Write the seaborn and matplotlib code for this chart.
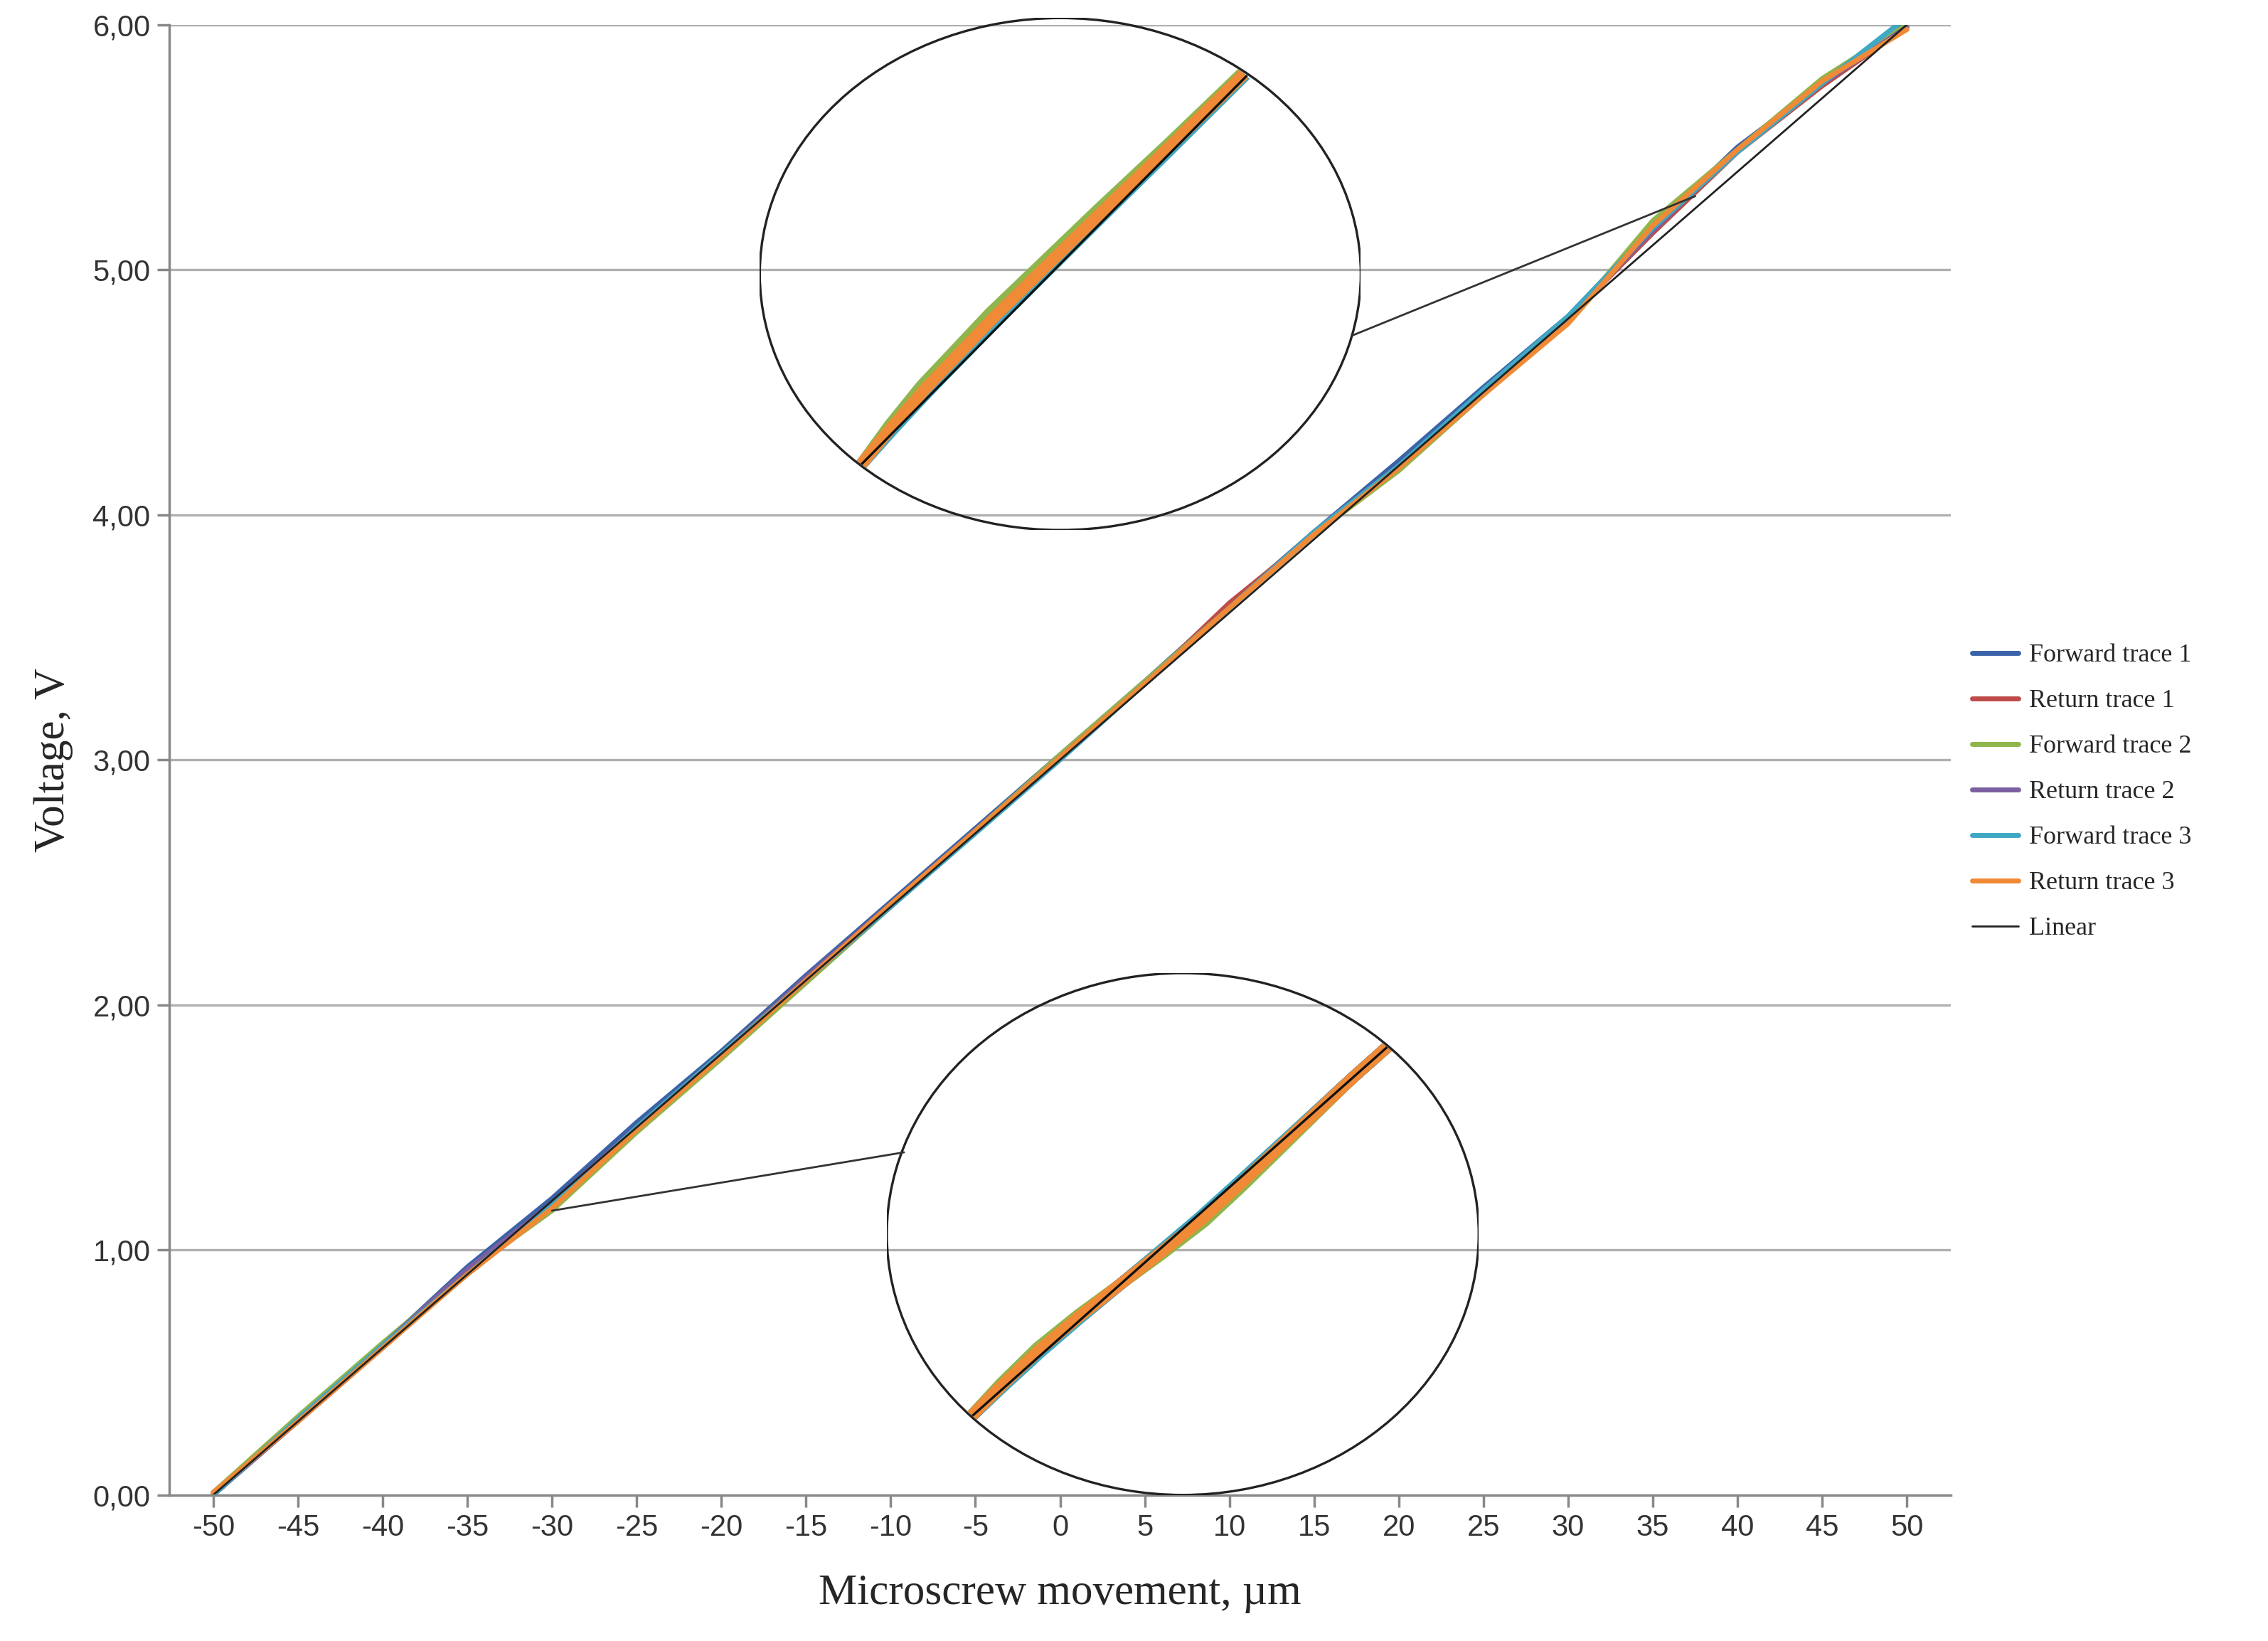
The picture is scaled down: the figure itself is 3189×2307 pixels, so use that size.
import numpy as np, pandas as pd, matplotlib
matplotlib.use("Agg")
import matplotlib.pyplot as plt
import seaborn as sns
from matplotlib.patches import Ellipse

x = list(range(-50, 55, 5))
fwd1 = [0.00,0.31,0.61,0.93,1.21,1.52,1.81,2.12,2.42,2.72,3.02,3.32,3.63,3.93,4.22,4.52,4.81,5.17,5.50,5.76,6.02]
ret1 = [0.01,0.30,0.60,0.91,1.19,1.50,1.80,2.11,2.41,2.71,3.01,3.31,3.64,3.92,4.20,4.50,4.80,5.15,5.48,5.75,5.99]
fwd2 = [0.01,0.32,0.62,0.91,1.16,1.48,1.78,2.09,2.40,2.71,3.02,3.32,3.62,3.92,4.18,4.49,4.79,5.20,5.49,5.78,6.00]
ret2 = [0.00,0.30,0.61,0.92,1.19,1.50,1.80,2.11,2.41,2.71,3.01,3.31,3.62,3.93,4.20,4.50,4.80,5.16,5.49,5.76,5.99]
fwd3 = [0.00,0.31,0.61,0.90,1.18,1.50,1.80,2.10,2.40,2.70,3.00,3.31,3.62,3.93,4.20,4.51,4.81,5.17,5.48,5.76,6.03]
ret3 = [0.01,0.30,0.60,0.90,1.17,1.49,1.79,2.10,2.41,2.71,3.01,3.31,3.62,3.92,4.19,4.49,4.78,5.18,5.49,5.77,5.98]
names = ["Forward trace 1","Return trace 1","Forward trace 2","Return trace 2","Forward trace 3","Return trace 3"]
colors = ["#3a63a8","#be4b48","#8fb64c","#7c5fa0","#3fa8c4","#f08a36"]
series = [fwd1, ret1, fwd2, ret2, fwd3, ret3]
linear = [0.06*(v+50) for v in x]

rows = []
for n, s in zip(names, series):
    for xv, yv in zip(x, s):
        rows.append((xv, yv, n))
df = pd.DataFrame(rows, columns=["x","y","trace"])

sns.set_theme(style="white")
plt.rcParams['font.family'] = ['Liberation Sans', 'DejaVu Sans']
fig = plt.figure(figsize=(15.945, 11.535), dpi=200)
ax = fig.add_axes([0.0746, 0.089, 0.7856, 0.896])
sns.lineplot(data=df, x="x", y="y", hue="trace", palette=dict(zip(names, colors)),
             hue_order=names, lw=2.5, ax=ax)
ax.plot(x, linear, color="#222222", lw=1.0, label="Linear")
ax.set_xlim(-52.6, 52.6); ax.set_ylim(0, 6)
ax.set_xticks(x); ax.set_xticklabels([str(v) for v in x])
ax.set_yticks([0,1,2,3,4,5,6]); ax.set_yticklabels([f"{v},00" for v in range(7)])
ax.yaxis.grid(True, color="#b0b0b0", lw=1.2)
for s in ["top","right"]: ax.spines[s].set_visible(False)
for s in ["left","bottom"]: ax.spines[s].set_color("#888888")
ax.tick_params(axis="both", labelsize=15, colors="#333333", length=6, direction="out",
               bottom=True, left=True, color="#888888")
ax.set_xlabel("Microscrew movement, µm", family="Liberation Serif", fontsize=22, labelpad=16)
ax.set_ylabel("Voltage, V", family="Liberation Serif", fontsize=22, labelpad=10)
h, l = ax.get_legend_handles_labels()
ax.legend(h, l, loc="center left", bbox_to_anchor=(1.012, 0.478), frameon=False,
          prop={"family": "Liberation Serif", "size": 13}, handlelength=1.8,
          handletextpad=0.4, labelspacing=0.85, borderpad=0, borderaxespad=0)

W, H = 1568, 1135
def fc(px, py): return (px/W, 1-py/H)
for (dx, dy), (px, py) in [((37.5, 5.30), (935, 232)), ((-30, 1.16), (625, 797))]:
    p = fig.transFigure.inverted().transform(ax.transData.transform((dx, dy)))
    q = fc(px, py)
    fig.add_artist(plt.Line2D([p[0], q[0]], [p[1], q[1]], color="#333333", lw=1.0))

zoom_off_top = [0.00,0.012,0.020,0.022,0.024,0.022,0.020,0.018,0.015,0.012,0.010,0.008]
zoom_off_bot = [0.00,0.008,0.012,0.008,0.000,-0.008,-0.014,-0.012,-0.008,-0.004,0.000,0.000]
def inset(bbox, p0, p1, offs):
    ia = fig.add_axes(bbox); ia.set_xlim(0,1); ia.set_ylim(0,1); ia.axis("off")
    ia.add_patch(Ellipse((0.5,0.5), 1, 1, fill=False, ec="#222222", lw=1.2, transform=ia.transAxes))
    clip = Ellipse((0.5,0.5), 0.995, 0.995, transform=ia.transAxes)
    t = np.linspace(0, 1, len(offs))
    xs = p0[0] + t*(p1[0]-p0[0]); ys = p0[1] + t*(p1[1]-p0[1])
    shifts = [0.8, 0.6, 1.6, 0.7, 0.5, 1.0]
    for c, sh in zip(colors, shifts):
        o = np.array(offs)*sh
        ln, = ia.plot(xs - o*0.5, ys + o*0.5, color=c, lw=6, solid_capstyle="butt")
        ln.set_clip_path(clip)
    ln, = ia.plot([p0[0], p1[0]], [p0[1], p1[1]], color="#111111", lw=1.2)
    ln.set_clip_path(clip)

inset([0.335, 0.677, 0.265, 0.312], (0.168, 0.127), (0.81, 0.887), zoom_off_top)
inset([0.391, 0.089, 0.261, 0.318], (0.134, 0.141), (0.851, 0.864), zoom_off_bot)

fig.savefig("out.png", dpi=200)
